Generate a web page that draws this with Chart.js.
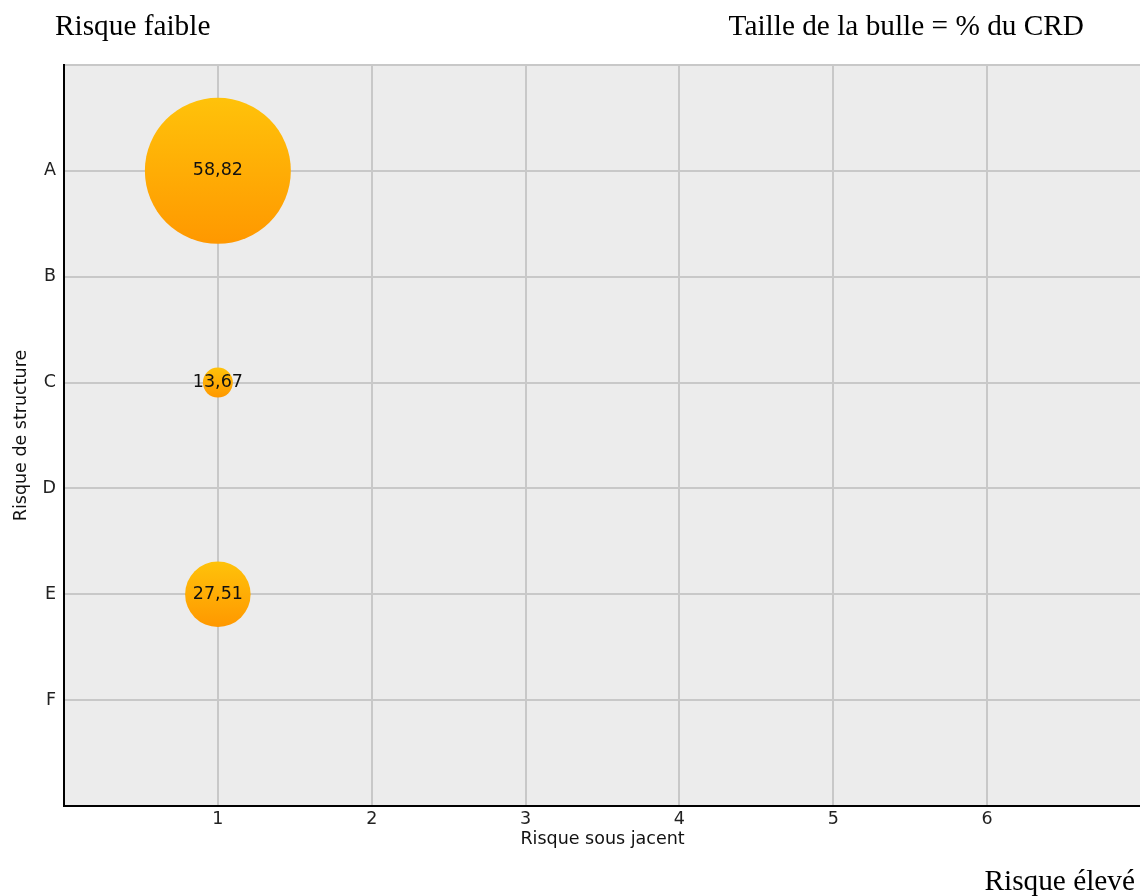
<!DOCTYPE html>
<html>
<head>
<meta charset="utf-8">
<script src="https://cdn.jsdelivr.net/npm/chart.js@4"></script>
<style>
  body { margin: 0; background: #fff; overflow: hidden; }
  #wrap { position: relative; width: 1140px; height: 896px; overflow: hidden; }
  canvas { position: absolute; left: 0; top: 0; }
  .serif { position: absolute; font-family: "Liberation Serif", "Times New Roman", serif; font-size: 29.3px; line-height: 30px; color: #000; white-space: nowrap; }
</style>
</head>
<body>
<div id="wrap">
  <canvas id="myChart" width="1144" height="896"></canvas>
  <div class="serif" style="left:55px; top:10px;">Risque faible</div>
  <div class="serif" style="right:56px; top:10px;">Taille de la bulle = % du CRD</div>
  <div class="serif" style="right:5px; top:865px;">Risque élevé</div>
</div>
<script>
// données
let xValues = [1, 1, 1];
let yValues = [1, 3, 5]; // A, C, E
let sizes = [58.82, 13.67, 27.51];
let rowLabels = ['A', 'B', 'C', 'D', 'E', 'F'];
let colLabels = ['1', '2', '3', '4', '5', '6'];

let points = xValues.map((x, i) => ({ x: x, y: yValues[i], r: sizes[i] * 1.285 - 2.6 }));

const FONT = 'DejaVu Sans';
const FS = 17.5;

// fond gris de la zone de tracé
const plotBg = {
  id: 'plotBg',
  beforeDraw(chart) {
    const { ctx, chartArea: a } = chart;
    ctx.save();
    ctx.fillStyle = '#ececec';
    ctx.fillRect(a.left, a.top, a.right - a.left, a.bottom - a.top);
    ctx.restore();
  }
};

// valeurs dans les bulles
const bubbleText = {
  id: 'bubbleText',
  afterDatasetsDraw(chart) {
    const { ctx } = chart;
    const meta = chart.getDatasetMeta(0);
    ctx.save();
    ctx.font = FS + 'px "' + FONT + '"';
    ctx.fillStyle = '#111';
    ctx.textAlign = 'center';
    ctx.textBaseline = 'middle';
    meta.data.forEach((el, i) => {
      ctx.fillText(sizes[i].toFixed(2).replace('.', ','), el.x, el.y);
    });
    ctx.restore();
  }
};

let ctx = document.getElementById('myChart').getContext('2d');

let bubbleChart = new Chart(ctx, {
  type: 'bubble',
  data: {
    datasets: [{
      data: points,
      borderWidth: 0,
      hoverRadius: 0,
      hoverBorderWidth: 0,
      backgroundColor: function(context) {
        const chart = context.chart;
        const raw = context.raw;
        if (!raw || !chart.scales.y) return '#ffb000';
        const yc = chart.scales.y.getPixelForValue(raw.y);
        if (!isFinite(yc)) return '#ffb000';
        const g = chart.ctx.createLinearGradient(0, yc - raw.r, 0, yc + raw.r);
        g.addColorStop(0, '#ffc20a');
        g.addColorStop(1, '#ff9800');
        return g;
      }
    }]
  },
  options: {
    responsive: false,
    animation: false,
    layout: { autoPadding: false, padding: { top: 65, left: 0, right: 0, bottom: 0 } },
    plugins: {
      legend: { display: false },
      tooltip: { enabled: false }
    },
    scales: {
      x: {
        type: 'linear',
        min: 0,
        max: 7,
        afterFit: (scale) => { scale.height = 90; },
        grid: { color: '#c8c8c8', lineWidth: 2, drawTicks: false },
        border: { color: '#000', width: 2 },
        ticks: {
          stepSize: 1,
          padding: 3,
          color: '#222',
          font: { family: FONT, size: FS },
          callback: (v) => colLabels[v - 1] || ''
        },
        title: {
          display: true,
          text: 'Risque sous jacent',
          color: '#111',
          font: { family: FONT, size: FS },
          padding: { top: 0, bottom: 46 }
        }
      },
      y: {
        type: 'linear',
        reverse: true,
        min: 0,
        max: 7,
        afterFit: (scale) => { scale.width = 64; },
        grid: { color: '#c8c8c8', lineWidth: 2, drawTicks: false },
        border: { color: '#000', width: 2 },
        ticks: {
          stepSize: 1,
          padding: 8,
          color: '#222',
          font: { family: FONT, size: FS },
          callback: (v) => rowLabels[v - 1] || ''
        },
        title: {
          display: true,
          text: 'Risque de structure',
          color: '#111',
          font: { family: FONT, size: FS },
          padding: { top: 11, bottom: 0 }
        }
      }
    }
  },
  plugins: [plotBg, bubbleText]
});
</script>
</body>
</html>
